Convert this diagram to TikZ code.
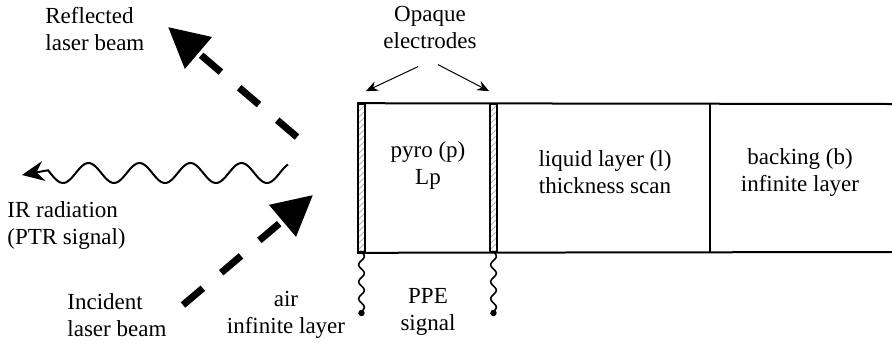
\documentclass[tikz,border=0pt]{standalone}
\usepackage{fontspec}
\setmainfont{Liberation Serif}
\usetikzlibrary{arrows.meta, patterns}

\begin{document}
\begin{tikzpicture}[
          x=0.5pt, y=-0.5pt,
          font=\rmfamily\fontsize{11.5}{13.5}\selectfont,
          lbl/.style={align=center, inner sep=0pt},
          lbll/.style={align=left, inner sep=0pt, anchor=west},
          beam/.style={line width=3.5pt, dash pattern=on 13pt off 12pt, -{Triangle[length=20pt, width=20pt]}},
          irwave/.style={line width=1pt, -{Stealth[length=11pt, width=10pt]}},
          wire/.style={line width=0.8pt},
          electrode/.style={draw, line width=0.8pt, pattern=north east lines, pattern color=gray!60, minimum width=3.5pt, minimum height=74pt, inner sep=0pt}
        ]
        \useasboundingbox (0,0) rectangle (892,344);

        % ----------------------------------------------------
        % SAMPLE CELL: electrodes, pyro, liquid, backing
        % ----------------------------------------------------
        \node[electrode] (elL) at (361.5,178) {};
        \node[electrode] (elR) at (493.5,178) {};
        \coordinate (boxTR) at (892,104);
        \coordinate (boxBR) at (892,252);
        \draw[line width=1pt] (elL.north west) -- (boxTR);
        \draw[line width=1pt] (elL.south west) -- (boxBR);
        \draw[line width=0.6pt] (710,104) -- (710,252);

        \node[lbl] (pyro) at (428,165) {pyro (p)\\Lp};
        \node[lbl] (liquid) at (605,172) {liquid layer (l)\\thickness scan};
        \node[lbl] (backing) at (800,172) {backing (b)\\infinite layer};

        % ----------------------------------------------------
        % ELECTRODES AND PPE SIGNAL
        % ----------------------------------------------------
        \node[lbl] (opq) at (430,27) {Opaque\\electrodes};
        \draw[-{Stealth[length=6pt, width=5pt]}, line width=0.5pt] ([xshift=-6pt, yshift=-9pt]opq.south) -- ([yshift=6pt]elL.north east);
        \draw[-{Stealth[length=6pt, width=5pt]}, line width=0.5pt] ([xshift=4pt, yshift=-8pt]opq.south) -- ([yshift=6pt]elR.north west);

        \coordinate (wL) at (361.5,313);
        \coordinate (wR) at (493.5,313);
        \draw[wire] (elL.south) -- plot[domain=252:313, samples=60, smooth] ({361.5+2.8*sin((\x-252)/17*360)}, \x) -- (wL);
        \draw[wire] (elR.south) -- plot[domain=252:313, samples=60, smooth] ({493.5+2.8*sin((\x-252)/17*360)}, \x) -- (wR);
        \fill (wL) circle (1.6pt);
        \fill (wR) circle (1.6pt);
        \node[lbl] (ppe) at (428,312) {PPE\\signal};

        % ----------------------------------------------------
        % LASER BEAMS AND IR RADIATION
        % ----------------------------------------------------
        \coordinate (refl0) at (297,137);
        \coordinate (refl1) at (168,27);
        \coordinate (inc0) at (183,305);
        \coordinate (inc1) at (313,195);
        \coordinate (ir0) at (288,169);
        \coordinate (ir1) at (22,175);
        \draw[beam] (refl0) -- (refl1);
        \draw[beam] (inc0) -- (inc1);
        \draw[irwave] plot[domain=288:48, samples=120, smooth] (\x, {173+10*cos((\x-267)/51*360)}) -- (ir1);

        \node[lbll] (refltxt) at (45,29) {Reflected\\laser beam};
        \node[lbll] (irtxt) at (7,225) {IR radiation\\(PTR signal)};
        \node[lbll] (inctxt) at (67,315) {Incident\\laser beam};
        \node[lbl] (air) at (286,315) {air\\infinite layer};
      \end{tikzpicture}
\end{document}
